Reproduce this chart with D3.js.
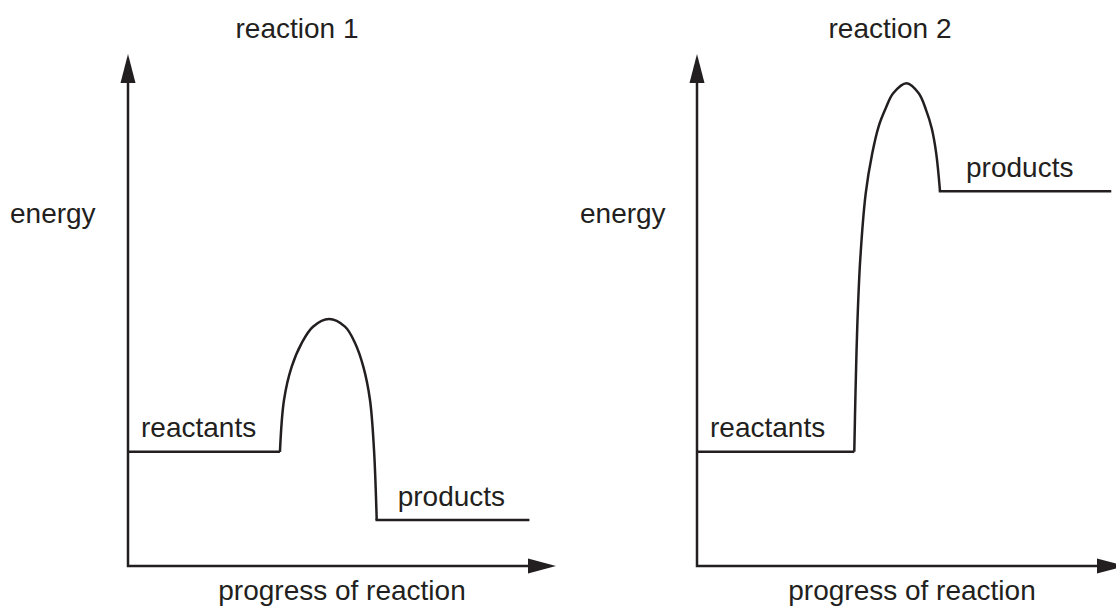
<!DOCTYPE html>
<html>
<head>
<meta charset="utf-8">
<script src="https://cdn.jsdelivr.net/npm/d3@7"></script>
<style>
body { margin: 0; background: #fff; }
svg { display: block; }
text { font-family: "Liberation Sans", Arial, Helvetica, sans-serif; font-size: 28px; fill: #231f20; }
</style>
</head>
<body>
<script>
const width = 1116,
      height = 608,
      ink = "#231f20";

const titles = ["reaction 1", "reaction 2"];
const xName = "progress of reaction",
      yName = "energy";

// energy on a 0-100 scale of the y axis, progress 0-100 along the x axis
const reactantEnergy = [22.3, 22.3];
const productEnergy = [9.0, 73.2];
const productEnd = [93.5, 96.5];

const hump1Progress = [35.5, 36.45, 38.25, 40.58, 43.22, 46.96, 50.70, 53.04, 54.98, 56.54, 57.48, 58.11];
const hump1Energy   = [22.3, 32.42, 38.93, 43.55, 46.74, 48.24, 46.74, 43.55, 38.93, 32.42, 22.66, 9.0];

const hump2Progress = [36.75, 37.03, 37.45, 38.13, 39.42, 40.95, 42.45, 44.09, 45.84, 48.99, 51.80, 53.55, 54.84, 55.89, 56.78];
const hump2Energy   = [22.3, 33.73, 46.82, 59.71, 72.79, 80.60, 85.88, 89.39, 92.32, 94.28, 92.32, 89.00, 85.49, 80.60, 73.2];

const humpProgress = [hump1Progress, hump2Progress];
const humpEnergy = [hump1Energy, hump2Energy];

const panels = [
    {left: 128, titleX: 297, energyX: 10, xLabelX: 342, prodDx: 21},
    {left: 697, titleX: 890, energyX: 580, xLabelX: 912, prodDx: 26}
];

let svg = d3.select("body")
    .append("svg")
    .attr("width", width)
    .attr("height", height);

function drawPanel(i) {
    const p = panels[i];
    let x = d3.scaleLinear().domain([0, 100]).range([p.left, p.left + 428]);
    let y = d3.scaleLinear().domain([0, 100]).range([566, 54]);
    let g = svg.append("g").attr("class", "panel");

    // axes with arrow heads
    g.append("path")
        .attr("d", "M" + x(0) + "," + (y(100) + 20) + "V" + y(0) + "H" + (x(100) - 20))
        .attr("fill", "none")
        .attr("stroke", ink)
        .attr("stroke-width", 2.5)
        .attr("stroke-linejoin", "miter");
    g.append("path")
        .attr("d", "M" + x(0) + "," + y(100) + "l-7.5,29h15z")
        .attr("fill", ink);
    g.append("path")
        .attr("d", "M" + x(100) + "," + y(0) + "l-28,-7.5v15z")
        .attr("fill", ink);

    let line = d3.line()
        .x(function (d) {return x(d[0]);})
        .y(function (d) {return y(d[1]);});

    let hump = humpProgress[i].map(function (v, k) {return [v, humpEnergy[i][k]];});
    let start = hump[0], end = hump[hump.length - 1];

    g.append("path")
        .attr("d", line([[0, reactantEnergy[i]], [start[0], reactantEnergy[i]]]))
        .attr("fill", "none").attr("stroke", ink).attr("stroke-width", 2.5);
    g.append("path")
        .attr("d", line.curve(d3.curveCatmullRom.alpha(0.5))(hump))
        .attr("fill", "none").attr("stroke", ink).attr("stroke-width", 2.5);
    line.curve(d3.curveLinear);
    g.append("path")
        .attr("d", line([[end[0], productEnergy[i]], [productEnd[i], productEnergy[i]]]))
        .attr("fill", "none").attr("stroke", ink).attr("stroke-width", 2.5)
        .attr("stroke-linecap", "square");

    // labels
    g.append("text")
        .attr("x", p.titleX).attr("y", 38)
        .attr("text-anchor", "middle")
        .text(titles[i]);
    g.append("text")
        .attr("x", p.energyX).attr("y", 223)
        .text(yName);
    g.append("text")
        .attr("x", p.xLabelX).attr("y", 600)
        .attr("text-anchor", "middle")
        .text(xName);
    g.append("text")
        .attr("x", x(0) + 13).attr("y", y(reactantEnergy[i]) - 15)
        .text("reactants");
    g.append("text")
        .attr("x", x(end[0]) + p.prodDx).attr("y", y(productEnergy[i]) - 14)
        .text("products");
}

drawPanel(0);
drawPanel(1);
</script>
</body>
</html>
